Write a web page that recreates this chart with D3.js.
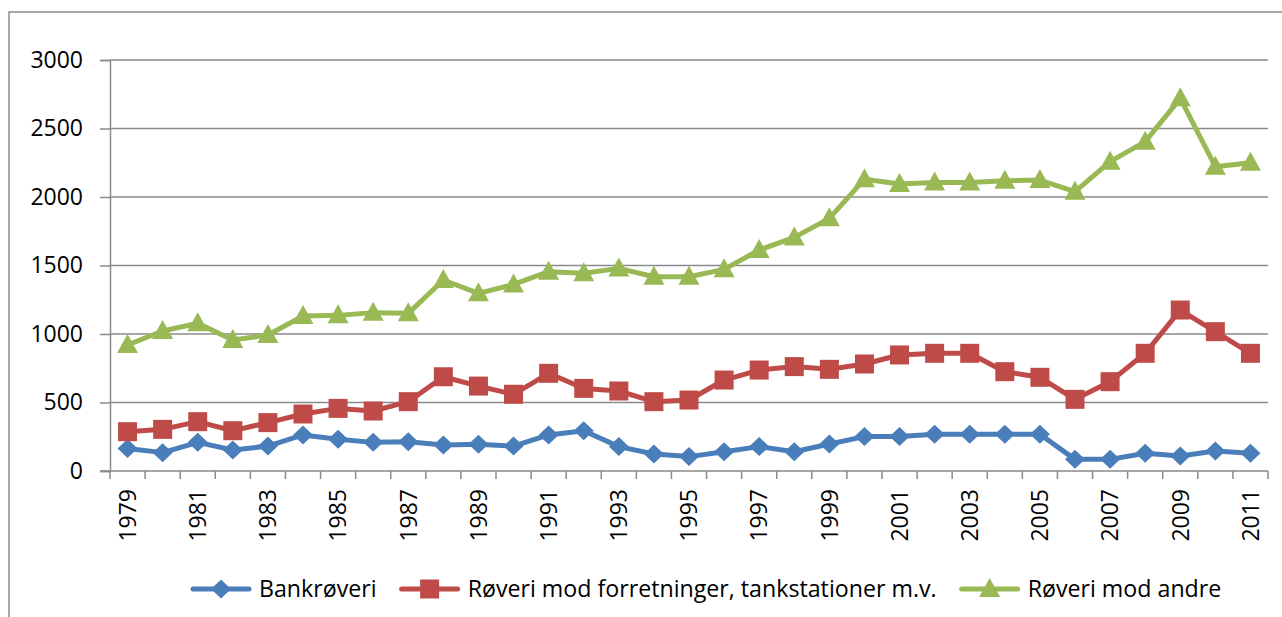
<!DOCTYPE html>
<html lang="da">
<head>
    <meta charset="UTF-8">
    <title>Røverier 1979-2011</title>
    <script src="https://d3js.org/d3.v7.min.js"></script>
    <style>
        body { margin: 0; background: #fff; }
        svg { display: block; font-family: "Open Sans", "Noto Sans", sans-serif; }
    </style>
</head>
<body>
<div id="chart"></div>
<script>
    // years on the x axis
    const years = d3.range(1979, 2012);

    const seriesNames = ["Bankrøveri", "Røveri mod forretninger, tankstationer m.v.", "Røveri mod andre"];

    // values
    const bank = [165, 134, 209, 153, 182, 263, 231, 209, 214, 190, 195, 182, 263, 294, 178, 124, 105, 141,
        178, 141, 197, 251, 251, 268, 268, 268, 268, 85, 85, 129, 109, 146, 129];
    const forretninger = [287, 304, 360, 294, 353, 416, 457, 438, 506, 688, 620, 560, 713, 603, 584, 506, 518, 664,
        737, 762, 742, 781, 847, 859, 859, 725, 684, 523, 652, 859, 1175, 1017, 859];
    const andre = [920, 1022, 1078, 956, 993, 1131, 1136, 1156, 1151, 1394, 1297, 1362, 1455, 1443, 1479, 1418, 1418, 1472,
        1613, 1705, 1844, 2130, 2095, 2105, 2105, 2119, 2124, 2039, 2258, 2404, 2720, 2221, 2250];

    const yTicks = [0, 500, 1000, 1500, 2000, 2500, 3000];
    const xLabelYears = years.filter(y => (y - 1979) % 2 === 0);

    const colors = ["#4a7ebb", "#be4b48", "#98b954"];
    const markers = ["diamond", "square", "triangle"];

    function markerPath(type, cx, cy) {
        const p = d3.path();
        if (type === "diamond") {
            p.moveTo(cx, cy - 9.5); p.lineTo(cx + 10, cy); p.lineTo(cx, cy + 9.5); p.lineTo(cx - 10, cy);
        } else if (type === "square") {
            p.rect(cx - 9.5, cy - 9.5, 19, 19);
        } else {
            p.moveTo(cx, cy - 11); p.lineTo(cx + 10.5, cy + 8); p.lineTo(cx - 10.5, cy + 8);
        }
        p.closePath();
        return p.toString();
    }

    function createChart(width, height) {
        const svg = d3.select("#chart").append("svg")
            .attr("width", width)
            .attr("height", height)
            .attr("viewBox", [0, 0, width, height]);

        // outer chart frame (runs off the right and bottom edges)
        svg.append("rect")
            .attr("x", 9).attr("y", 12)
            .attr("width", 1400).attr("height", 800)
            .attr("fill", "none")
            .attr("stroke", "#8c8c8c")
            .attr("stroke-width", 1.5);

        const left = 110, right = 1268, top = 60, bottom = 471;

        const x = d3.scaleBand().domain(years).range([left, right]).padding(0);
        const y = d3.scaleLinear().domain([0, 3000]).range([bottom, top]);
        const cx = d => x(d) + x.bandwidth() / 2;

        // grid lines
        svg.append("g")
            .selectAll("line")
            .data(yTicks.filter(d => d > 0))
            .join("line")
            .attr("x1", left).attr("x2", right)
            .attr("y1", d => y(d)).attr("y2", d => y(d))
            .attr("stroke", "#8a8a8a")
            .attr("stroke-width", 1.5);

        // y axis
        const yAxis = svg.append("g")
            .attr("transform", `translate(${left},0)`)
            .call(d3.axisLeft(y).tickValues(yTicks).tickSize(10).tickPadding(17).tickFormat(d3.format("d")));
        yAxis.select(".domain").attr("stroke", "#8a8a8a").attr("stroke-width", 1.5);
        yAxis.selectAll(".tick line").attr("stroke", "#8a8a8a").attr("stroke-width", 1.5);
        yAxis.selectAll(".tick text")
            .attr("font-size", 23)
            .attr("font-family", "'Open Sans', sans-serif")
            .attr("fill", "#000");

        // x axis line and tick marks at category boundaries
        const xAxis = svg.append("g");
        xAxis.append("line")
            .attr("x1", left - 10).attr("x2", right)
            .attr("y1", bottom).attr("y2", bottom)
            .attr("stroke", "#8a8a8a").attr("stroke-width", 1.5);
        const bounds = years.map(d => x(d)).concat([x(years[years.length - 1]) + x.bandwidth()]);
        xAxis.selectAll("line.tick")
            .data(bounds)
            .join("line")
            .attr("class", "tick")
            .attr("x1", d => d).attr("x2", d => d)
            .attr("y1", bottom).attr("y2", bottom + 8)
            .attr("stroke", "#8a8a8a").attr("stroke-width", 1.5);
        xAxis.selectAll("text")
            .data(xLabelYears)
            .join("text")
            .attr("transform", d => `translate(${cx(d)},${bottom + 18}) rotate(-90)`)
            .attr("text-anchor", "end")
            .attr("dy", "0.36em")
            .attr("font-size", 23)
            .text(d => d);

        // series
        const allSeries = [bank, forretninger, andre];
        const line = d3.line().x((d, i) => cx(years[i])).y(d => y(d));

        allSeries.forEach((values, s) => {
            const g = svg.append("g");
            g.append("path")
                .datum(values)
                .attr("d", line)
                .attr("fill", "none")
                .attr("stroke", colors[s])
                .attr("stroke-width", 5)
                .attr("stroke-linejoin", "round");
            g.selectAll("path.marker")
                .data(values)
                .join("path")
                .attr("class", "marker")
                .attr("d", (d, i) => markerPath(markers[s], cx(years[i]), y(d)))
                .attr("fill", colors[s]);
        });

        // legend
        const legend = svg.append("g").attr("transform", "translate(0,589)");
        let lx = 193;
        seriesNames.forEach((name, s) => {
            legend.append("line")
                .attr("x1", lx).attr("x2", lx + 56)
                .attr("y1", 0).attr("y2", 0)
                .attr("stroke", colors[s])
                .attr("stroke-width", 5)
                .attr("stroke-linecap", "round");
            legend.append("path")
                .attr("d", markerPath(markers[s], lx + 28, 0))
                .attr("fill", colors[s]);
            const t = legend.append("text")
                .attr("x", lx + 66)
                .attr("dy", "0.35em")
                .attr("font-size", 23.2)
                .text(name);
            lx += 66 + t.node().getComputedTextLength() + 25;
        });

        return svg.node();
    }

    document.addEventListener('DOMContentLoaded', () => {
        createChart(1282, 617);
    });
</script>
</body>
</html>
